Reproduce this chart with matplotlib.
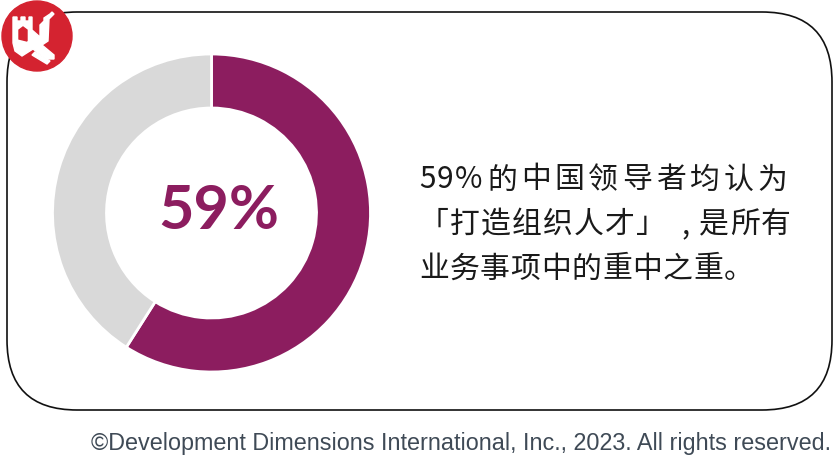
import matplotlib
matplotlib.use("Agg")
import matplotlib.pyplot as plt
from matplotlib.patches import FancyBboxPatch, Circle, Polygon

# data
share_labels = ["打造组织人才", "其他"]
share_values = [59, 41]
share_colors = ["#8C1D5F", "#D9D9D9"]
big_label = "59%"
text_lines = ["59%的中国领导者均认为", "「打造组织人才」,是所有", "业务事项中的重中之重。"]
footer = "©Development Dimensions International, Inc., 2023. All rights reserved."

W, H = 834, 460
fig = plt.figure(figsize=(W / 100, H / 100), dpi=100)
ax = fig.add_axes([0, 0, 1, 1])


def Y(y):
    # 像素行(从上往下) -> 数据坐标
    return H - y


# 圆环图
ax.pie(share_values, startangle=90, counterclock=False, colors=share_colors,
       radius=159, center=(211.5, Y(214)),
       wedgeprops=dict(width=54, edgecolor="white", linewidth=2))
ax.set_xlim(0, W)
ax.set_ylim(0, H)
ax.set_aspect("auto")
ax.axis("off")

# 圆角框
box = FancyBboxPatch((7, Y(411)), 825, 398,
                     boxstyle="round,pad=0,rounding_size=70",
                     fc="none", ec="#111111", lw=1.2, zorder=0)
ax.add_patch(box)

# 中间的大数字
ax.text(219, Y(211), big_label, ha="center", va="center", color=share_colors[0],
        fontsize=44, fontweight="bold", family="Lato")

# 右侧文字，逐字排版（前两行两端对齐）
special = [
    {"5": 18, "9": 18, "%": 32},
    {"」": 45, ",": 18},
    {},
]
cjk_adv = [33.75, 31, 30.5]
for i, line in enumerate(text_lines):
    x = 419
    y = Y(180 + i * 44.5)
    for ch in line:
        ax.text(x, y, ch, ha="left", va="center", fontsize=21.5, color="#1A1A1A",
                family=["Noto Sans CJK SC", "DejaVu Sans"])
        x += special[i].get(ch, cjk_adv[i])

# 左上角标志
red = "#D42330"
logo = Circle((37, Y(37)), 35, color=red, zorder=5)
ax.add_patch(logo)
tower = [(13, 18), (17, 18), (17, 22), (21, 22), (21, 18), (25, 18), (25, 22),
         (29, 22), (29, 18), (32, 18), (32, 31), (40, 38), (40, 26), (44, 22),
         (44, 19), (50, 15), (52, 13), (54, 15), (49, 20), (48, 42), (42, 46),
         (54, 56), (54, 60), (46, 60), (33, 50), (22, 57), (15, 52), (13, 44)]
ax.add_patch(Polygon([(x, Y(y)) for x, y in tower], closed=True, color="white", zorder=6))
arch = [(19, 31), (23, 28), (27, 31), (27, 42), (19, 40)]
ax.add_patch(Polygon([(x, Y(y)) for x, y in arch], closed=True, color=red, zorder=7))
stripe = [(35, 53), (50, 62), (47, 65), (32, 56)]
p = Polygon([(x, Y(y)) for x, y in stripe], closed=True, color="white", zorder=6)
ax.add_patch(p)
p.set_clip_path(logo)

# 版权
ax.text(831, Y(444), footer, ha="right", va="center", fontsize=16.8,
        color="#3F4A56", family="Liberation Sans")

fig.savefig("out.png", dpi=100)
